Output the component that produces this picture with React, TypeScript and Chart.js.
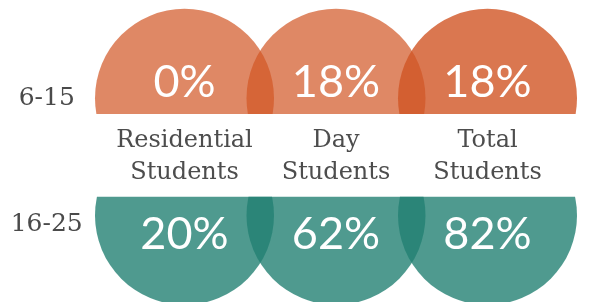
import React, { useEffect, useRef } from 'react';
import { Chart, registerables } from 'chart.js';

Chart.register(...registerables);

// ---- data ----
const categories = [
  ['Residential', 'Students'],
  ['Day', 'Students'],
  ['Total', 'Students'],
];
const rowLabels = ['6-15', '16-25'];
const age6to15 = [0, 18, 18];
const age16to25 = [20, 62, 82];

const rowValues = [1, 0];
const percentRows = [age6to15, age16to25];

const rowBandClip = {
  id: 'rowBandClip',
  beforeDatasetDraw(chart: any, args: any, opts: any) {
    const { ctx } = chart;
    const y = chart.scales.y;
    const edge = y.getPixelForValue(opts.edges[args.index]);
    ctx.save();
    ctx.beginPath();
    if (args.index === 0) ctx.rect(0, 0, chart.width, edge);
    else ctx.rect(0, edge, chart.width, chart.height - edge);
    ctx.clip();
  },
  afterDatasetDraw(chart: any) {
    chart.ctx.restore();
  },
};

const percentLabels = {
  id: 'percentLabels',
  afterDatasetsDraw(chart: any, _args: any, opts: any) {
    const { ctx } = chart;
    ctx.save();
    ctx.fillStyle = opts.color;
    ctx.font = opts.font;
    ctx.textAlign = 'center';
    ctx.textBaseline = 'alphabetic';
    chart.data.datasets.forEach((_ds: any, di: number) => {
      const meta = chart.getDatasetMeta(di);
      meta.data.forEach((el: any, i: number) => {
        ctx.fillText(percentRows[di][i] + '%', el.x, el.y + opts.offsets[di]);
      });
    });
    ctx.restore();
  },
};

export default function App() {
  const ref = useRef<HTMLCanvasElement>(null);

  useEffect(() => {
    if (!ref.current) return;
    const chart = new Chart(ref.current, {
      type: 'bubble',
      data: {
        datasets: [
          {
            label: rowLabels[0],
            data: age6to15.map((_v, i) => ({ x: i, y: rowValues[0] })),
            backgroundColor: ['rgba(209,85,36,0.7)', 'rgba(209,85,36,0.7)', 'rgba(209,85,36,0.8)'],
            borderWidth: 0,
            radius: 89.5,
            clip: false,
          },
          {
            label: rowLabels[1],
            data: age16to25.map((_v, i) => ({ x: i, y: rowValues[1] })),
            backgroundColor: 'rgba(35,129,115,0.8)',
            borderWidth: 0,
            radius: 89.5,
            clip: false,
          },
        ],
      } as any,
      options: {
        animation: false,
        responsive: false,
        events: [],
        layout: { autoPadding: false, padding: { left: 0, right: 29.75, top: 0, bottom: 0 } },
        plugins: {
          legend: { display: false },
          tooltip: { enabled: false },
          rowBandClip: { edges: [0.866, 0.16] },
          percentLabels: { color: '#ffffff', font: '45px Lato', offsets: [-1, 34] },
        } as any,
        scales: {
          x: {
            type: 'category',
            labels: categories as any,
            offset: true,
            position: { y: 0.866 } as any,
            afterFit: (s: any) => {
              s.paddingLeft = 0;
              s.paddingRight = 0;
            },
            grid: { display: false, drawTicks: false },
            border: { display: false },
            ticks: {
              padding: 11,
              autoSkip: false,
              maxRotation: 0,
              color: '#4d4d4d',
              font: { family: 'DejaVu Serif', size: 24, lineHeight: 1.34 },
            },
          },
          y: {
            type: 'linear',
            min: -0.74,
            max: 1.84,
            afterBuildTicks: (s: any) => {
              s.ticks = [1.0, -0.075].map((value) => ({ value }));
            },
            afterFit: (s: any) => {
              s.width = 108.75;
              s.paddingTop = 0;
              s.paddingBottom = 0;
            },
            grid: { display: false, drawTicks: false },
            border: { display: false },
            ticks: {
              padding: 26,
              crossAlign: 'center',
              color: '#4a4a4a',
              font: { family: 'DejaVu Serif', size: 25 },
              callback: (_v: any, i: number) => rowLabels[i],
            },
          },
        } as any,
      },
      plugins: [rowBandClip, percentLabels],
    });
    return () => chart.destroy();
  }, []);

  return (
    <div style={{ position: 'absolute', left: 0, top: 0, width: 593, height: 302 }}>
      <canvas ref={ref} width={593} height={302} />
    </div>
  );
}
